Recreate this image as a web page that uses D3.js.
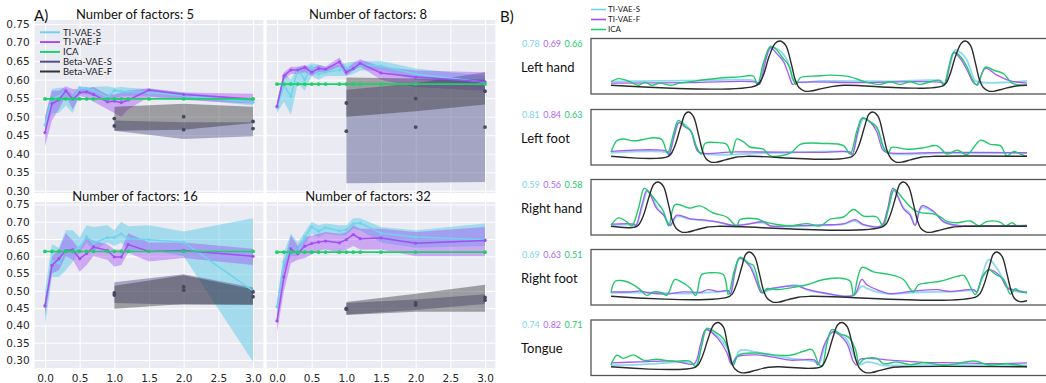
<!DOCTYPE html>
<html>
<head>
<meta charset="utf-8">
<script src="https://cdn.jsdelivr.net/npm/d3@7"></script>
<style>
  body { margin: 0; background: #fff; }
  .tick-lbl { font-family: "DejaVu Sans", sans-serif; font-size: 10.5px; fill: #262626; }
  .myr { font-family: Lato, "Open Sans", sans-serif; }
</style>
</head>
<body>
<svg id="fig" width="1046" height="383"></svg>
<script>
// ---------- Panel A data: x = weight, triples are [mean, lower, upper] ----------
const tiX = [0, 0.1, 0.2, 0.3, 0.4, 0.5, 0.6, 0.7, 0.9, 1.0, 1.1, 1.2, 1.5, 2.0, 3.0];
const betaX = [1, 2, 3];
const factorCounts = [5, 8, 16, 32];
const yTicks = [0.30, 0.35, 0.40, 0.45, 0.50, 0.55, 0.60, 0.65, 0.70, 0.75];
const xTicks = [0.0, 0.5, 1.0, 1.5, 2.0, 2.5, 3.0];

const tiS5 = [[0.478,0.46,0.50],[0.548,0.51,0.575],[0.555,0.51,0.578],[0.57,0.53,0.578],[0.545,0.51,0.56],[0.578,0.56,0.582],[0.576,0.56,0.58],[0.571,0.555,0.58],[0.552,0.545,0.582],[0.571,0.55,0.578],[0.568,0.555,0.58],[0.568,0.556,0.578],[0.565,0.555,0.575],[0.557,0.548,0.565],[0.539,0.53,0.547]];
const tiF5 = [[0.457,0.42,0.50],[0.535,0.49,0.57],[0.545,0.52,0.57],[0.57,0.555,0.582],[0.547,0.52,0.575],[0.565,0.555,0.575],[0.567,0.552,0.575],[0.56,0.54,0.58],[0.54,0.52,0.56],[0.542,0.51,0.56],[0.538,0.50,0.565],[0.545,0.52,0.57],[0.572,0.553,0.577],[0.56,0.545,0.565],[0.548,0.535,0.562]];
const ica5 = [0.548,0.548,0.548,0.548,0.548,0.548,0.548,0.548,0.548,0.548,0.548,0.548,0.548,0.548,0.548];
const betaS5 = [[0.475,0.462,0.49],[0.465,0.44,0.485],[0.468,0.447,0.485]];
const betaF5 = [[0.495,0.462,0.527],[0.50,0.465,0.535],[0.487,0.483,0.527]];

const tiS8 = [[0.525,0.51,0.54],[0.585,0.54,0.62],[0.555,0.505,0.60],[0.628,0.59,0.635],[0.60,0.57,0.635],[0.635,0.61,0.645],[0.615,0.60,0.64],[0.62,0.61,0.635],[0.626,0.61,0.64],[0.632,0.61,0.645],[0.63,0.615,0.648],[0.64,0.625,0.65],[0.637,0.625,0.65],[0.615,0.60,0.63],[0.593,0.585,0.61]];
const tiF8 = [[0.528,0.52,0.54],[0.61,0.60,0.62],[0.626,0.615,0.635],[0.626,0.615,0.635],[0.633,0.62,0.64],[0.62,0.61,0.63],[0.63,0.62,0.64],[0.628,0.62,0.635],[0.648,0.635,0.66],[0.62,0.61,0.63],[0.63,0.625,0.645],[0.644,0.635,0.655],[0.618,0.60,0.635],[0.607,0.58,0.625],[0.594,0.57,0.62]];
const ica8 = [0.588,0.588,0.588,0.588,0.588,0.588,0.588,0.588,0.588,0.588,0.588,0.588,0.588,0.588,0.588];
const betaS8 = [[0.461,0.32,0.573],[0.472,0.322,0.59],[0.472,0.324,0.62]];
const betaF8 = [[0.537,0.50,0.606],[0.549,0.515,0.603],[0.569,0.533,0.60]];

const tiS16 = [[0.459,0.40,0.50],[0.586,0.54,0.635],[0.58,0.54,0.625],[0.62,0.56,0.675],[0.615,0.585,0.675],[0.627,0.61,0.655],[0.656,0.64,0.69],[0.638,0.615,0.685],[0.654,0.64,0.69],[0.654,0.63,0.675],[0.665,0.64,0.70],[0.651,0.615,0.687],[0.648,0.62,0.69],[0.641,0.60,0.672],[0.50,0.295,0.71]];
const tiF16 = [[0.456,0.43,0.47],[0.574,0.55,0.60],[0.593,0.56,0.62],[0.617,0.60,0.667],[0.619,0.59,0.645],[0.593,0.555,0.62],[0.608,0.575,0.655],[0.627,0.60,0.645],[0.617,0.59,0.635],[0.598,0.57,0.62],[0.598,0.575,0.62],[0.634,0.61,0.667],[0.614,0.585,0.64],[0.617,0.595,0.64],[0.60,0.575,0.622]];
const ica16 = [0.614,0.614,0.614,0.614,0.614,0.614,0.614,0.614,0.614,0.614,0.614,0.614,0.614,0.614,0.614];
const betaS16 = [[0.488,0.465,0.525],[0.502,0.46,0.548],[0.483,0.46,0.51]];
const betaF16 = [[0.494,0.448,0.515],[0.512,0.462,0.545],[0.497,0.46,0.505]];

const tiS32 = [[0.454,0.44,0.47],[0.584,0.56,0.61],[0.625,0.60,0.665],[0.612,0.60,0.64],[0.656,0.63,0.67],[0.685,0.665,0.70],[0.673,0.655,0.69],[0.683,0.665,0.695],[0.673,0.66,0.69],[0.677,0.66,0.69],[0.694,0.68,0.71],[0.696,0.675,0.71],[0.667,0.64,0.685],[0.656,0.625,0.675],[0.648,0.63,0.695]];
const tiF32 = [[0.413,0.38,0.44],[0.54,0.50,0.58],[0.622,0.58,0.66],[0.608,0.59,0.63],[0.629,0.595,0.655],[0.637,0.605,0.66],[0.641,0.615,0.665],[0.644,0.62,0.67],[0.639,0.61,0.665],[0.648,0.62,0.67],[0.663,0.63,0.69],[0.651,0.62,0.68],[0.653,0.62,0.68],[0.638,0.60,0.67],[0.646,0.60,0.685]];
const ica32 = [0.612,0.612,0.612,0.612,0.612,0.612,0.612,0.612,0.612,0.612,0.612,0.612,0.612,0.612,0.612];
const betaS32 = [[0.447,0.432,0.465],[0.459,0.445,0.475],[0.473,0.462,0.49]];
const betaF32 = [[0.449,0.43,0.468],[0.465,0.44,0.492],[0.481,0.44,0.518]];

const seriesNames = ['TI-VAE-S', 'TI-VAE-F', 'ICA', 'Beta-VAE-S', 'Beta-VAE-F'];

// ---------- Panel B data: x = time (0-100), y = normalised activation ----------
const rowNames = ['Left hand', 'Left foot', 'Right hand', 'Right foot', 'Tongue'];
const scoreS = [0.78, 0.81, 0.59, 0.69, 0.74];
const scoreF = [0.69, 0.84, 0.56, 0.63, 0.82];
const scoreICA = [0.66, 0.63, 0.58, 0.51, 0.71];

const lhTruth = [[0,0],[35,0],[36.5,0.2],[38,0.65],[39.5,0.95],[40.7,1],[42,0.9],[43.3,0.5],[44.3,0.12],[45.2,-0.05],[46.5,-0.13],[48,-0.13],[50,-0.09],[53,-0.03],[56,0],[80,0],[81.3,0.2],[82.8,0.65],[84.2,0.95],[85.2,1],[86.4,0.9],[87.6,0.5],[88.6,0.12],[89.5,-0.05],[90.8,-0.13],[92.3,-0.13],[94.3,-0.08],[97,-0.02],[100,0]];
const lhS = [[0,0.09],[11,0.1],[23,0.11],[34.6,0.1],[35.4,0.02],[37,0.56],[38.7,0.86],[40.3,0.8],[41.9,0.64],[43.1,0.38],[44,0.1],[51.1,0.1],[67.1,0.09],[79.5,0.09],[80.1,0.02],[81.6,0.49],[82.8,0.8],[84.4,0.71],[85.6,0.56],[86.8,0.26],[87.6,0.1],[100,0.1]];
const lhF = [[0,0.05],[19,0.06],[34.9,0.07],[35.7,0.02],[37,0.49],[38.3,0.85],[39.9,0.71],[41.5,0.53],[42.9,0.19],[43.7,0.02],[44.7,0.06],[59.1,0.06],[79.5,0.06],[80.2,0.02],[82.4,0.73],[84,0.6],[85.6,0.34],[87.2,0.05],[88,0.02],[90,0.38],[92.8,0.23],[96,0.1],[100,0.05]];
const lhICA = [[0,0.08],[1.8,0.15],[3.8,0.11],[5.4,0.04],[6.6,0],[8.2,0.07],[9.8,0],[11.8,0.05],[14.2,0],[16.6,0.05],[19,0.08],[23,0.13],[27,0.17],[31,0.19],[34.2,0.21],[35.2,0],[36.6,0.49],[38.3,0.88],[39.5,0.83],[41.1,0.64],[42.7,0.45],[43.7,0.15],[44.5,0.02],[45.5,0.17],[49.5,0.21],[52.7,0.23],[57.5,0.19],[60.7,0.09],[64.7,0.02],[67.1,0.08],[69.5,0.02],[71.9,0.08],[74.3,0.02],[76.7,0.08],[79.1,0.11],[80,0],[81.2,0.41],[82.4,0.75],[84,0.65],[85.6,0.41],[87,0.11],[88,0],[90,0.41],[92,0.34],[94.4,0.26],[96.4,0.05],[100,0]];

const lfTruth = [[0,0],[13.8,0],[15.2,0.2],[16.7,0.65],[17.8,0.95],[18.6,1],[19.8,0.9],[21,0.5],[22,0.12],[22.8,-0.05],[24,-0.13],[25.5,-0.13],[27.5,-0.08],[30,-0.02],[33,0],[58,0],[59.4,0.2],[60.9,0.65],[62,0.95],[62.9,1],[64.2,0.9],[65.4,0.5],[66.4,0.12],[67.3,-0.05],[68.5,-0.13],[70,-0.13],[72,-0.08],[74.5,-0.02],[78,0],[100,0]];
const lfS = [[0,0.08],[13.5,0.08],[13.9,0.03],[15.3,0.5],[16.5,0.78],[18,0.7],[19.3,0.55],[20.6,0.2],[21.5,0.08],[40,0.08],[57.6,0.08],[58,0.03],[59.3,0.5],[60.7,0.85],[62.3,0.77],[64,0.62],[65.5,0.2],[66.4,0.08],[80,0.07],[100,0.07]];
const lfF = [[0,0.11],[13.5,0.11],[13.9,0.03],[15.3,0.5],[16.3,0.76],[17.8,0.66],[19.2,0.57],[20.2,0.25],[21.1,0.09],[30,0.1],[50,0.09],[57.6,0.09],[58,0.03],[59.3,0.55],[60.3,0.85],[62,0.8],[63.8,0.57],[65.3,0.15],[66.2,0.09],[80,0.09],[100,0.08]];
const lfICA = [[0,0.09],[1.4,0.35],[3,0.39],[5.4,0.35],[7.8,0.38],[10.2,0.42],[12.2,0.38],[13.6,0.07],[15,0.5],[16.2,0.81],[17.8,0.68],[19.2,0.57],[20.6,0.2],[21.7,0.05],[22.6,0.29],[25.4,0.31],[27.8,0.27],[29,0.05],[30.2,0.39],[31.8,0.33],[33.4,0.21],[36.6,0.16],[38.3,0.01],[43.1,0.07],[45.5,0.27],[51.1,0.29],[55.9,0.24],[57.5,0.05],[59.1,0.57],[60.5,0.87],[62.3,0.78],[63.9,0.66],[65.5,0.2],[66.6,0.07],[67.5,0.2],[71.1,0.16],[75.1,0.19],[78.3,0.24],[80.8,0.05],[83.2,0.14],[85.6,0.04],[88.8,0.36],[91.2,0.27],[93.6,0.24],[95.2,0.01],[96.8,0.11],[98.4,0.05],[100,0]];

const rhTruth = [[0,0],[6.2,0],[7.6,0.2],[9.1,0.65],[10.3,0.95],[11.4,1],[12.6,0.9],[13.8,0.5],[14.8,0.12],[15.7,-0.05],[17,-0.13],[18.5,-0.13],[20.5,-0.08],[23,-0.02],[26,0],[65.5,0],[66.9,0.2],[68.4,0.65],[69.4,0.95],[70.3,1],[71.5,0.9],[72.7,0.5],[73.7,0.12],[74.5,-0.05],[75.8,-0.13],[77.3,-0.13],[79.3,-0.08],[82,-0.02],[85,0],[100,0]];
const rhS = [[0,0.03],[5.5,0.03],[6,0.01],[7.5,0.45],[8.8,0.8],[9.7,0.7],[11.2,0.4],[12.8,0.24],[14.3,0.02],[15.8,0.22],[19,0.16],[21.4,0.14],[25.4,0.1],[29.4,0.02],[36.6,0.08],[38.3,0.01],[51,0.02],[56,0.05],[58.7,0.12],[60.7,0.03],[65,0.01],[66.5,0.35],[68,0.8],[70.3,0.42],[71.9,0.28],[73.1,0.03],[74.7,0.42],[77.5,0.32],[80,0.1],[83.2,0.02],[100,0.02]];
const rhF = [[0,0.05],[5.5,0.05],[6,0.02],[7.5,0.5],[8.6,0.81],[9.5,0.7],[11,0.4],[12.6,0.26],[14.2,0.02],[15.8,0.25],[19,0.17],[21.4,0.15],[25.4,0.1],[29.4,0.02],[33,0.05],[36.6,0.1],[38.3,0.01],[43,0.01],[51,0.03],[56,0.06],[58.7,0.15],[60.7,0.04],[65,0.01],[66.5,0.4],[67.8,0.86],[70.3,0.4],[71.9,0.25],[73.1,0.02],[74.7,0.46],[77.5,0.34],[80,0.1],[83.2,0.02],[100,0.02]];
const rhICA = [[0,0.02],[1.8,0.19],[3.8,0.1],[5,0.01],[6.6,0.4],[8,0.86],[9.4,0.74],[11,0.55],[12.6,0.34],[13.9,0.01],[15.4,0.49],[19,0.41],[21.4,0.46],[24.6,0.3],[27.8,0.21],[30.2,0.01],[31,0.15],[35,0.17],[36.6,0.11],[39.9,0.04],[43.1,0.01],[47.1,0.06],[50.3,0.01],[52.7,0.16],[55.9,0.21],[58.3,0.38],[60.7,0.23],[63.9,0.21],[65.4,0.01],[66.7,0.4],[68.1,0.83],[70.3,0.61],[72.3,0.41],[73.9,0.32],[78.3,0.26],[80.8,0.11],[83.2,0.08],[86.4,0.12],[88.4,0.01],[90.4,0.11],[93.6,0.09],[94.8,0.01],[96.4,0.08],[97.6,0.01],[100,0.01]];

const rfTruth = [[0,0],[28.5,0],[29.9,0.2],[31.4,0.65],[32.4,0.95],[33.3,1],[34.5,0.9],[35.7,0.5],[36.7,0.12],[37.6,-0.05],[38.9,-0.13],[40.4,-0.13],[42.4,-0.08],[45,-0.02],[48,0],[88,0],[89.4,0.2],[90.9,0.65],[91.9,0.95],[92.8,1],[94,0.9],[95.2,0.5],[96.2,0.12],[97,-0.05],[98.3,-0.12],[100,-0.1]];
const rfS = [[0,0.08],[10,0.08],[17.5,0.06],[22,0.08],[26,0.1],[28.2,0.11],[28.7,0.05],[29.8,0.55],[31,0.85],[33.3,0.72],[34.9,0.4],[36.2,0.08],[37.4,0.12],[44.7,0.25],[47,0.15],[51,0.07],[58.3,0.02],[60.3,0.23],[61.5,0.18],[63.9,0.1],[67.1,0.05],[71.9,0.08],[78.3,0.1],[81.6,0.1],[87.2,0.13],[87.9,0.1],[89.5,0.55],[90.8,0.83],[93,0.6],[95.2,0.22],[96.8,0.12],[100,0.1]];
const rfF = [[0,0.1],[5,0.1],[7,0.12],[9,0.08],[13.5,0.05],[17.5,0.1],[21.5,0.09],[23.3,0.15],[26,0.11],[28.2,0.13],[28.7,0.05],[29.8,0.55],[30.8,0.86],[33.3,0.68],[34.9,0.34],[36.2,0.08],[37.4,0.15],[44.7,0.23],[47,0.16],[51,0.08],[58.3,0.02],[60.3,0.38],[61.5,0.26],[63.9,0.15],[67.1,0.06],[71.9,0.11],[78.3,0.15],[81.6,0.11],[87.2,0.15],[87.9,0.1],[89.3,0.45],[90.8,0.6],[93.6,0.45],[95.2,0.19],[96.8,0.15],[100,0.08]];
const rfICA = [[0,0.08],[1,0.34],[3,0.35],[5.4,0.26],[7,0.15],[8.6,0.02],[10.2,0.1],[12.2,0.08],[13.4,0.02],[15.4,0.38],[17,0.32],[19,0.19],[20.4,0.02],[21.8,0.49],[23.8,0.53],[27,0.49],[28.2,0.04],[29.6,0.56],[31,0.88],[33,0.75],[34.2,0.7],[35.8,0.19],[36.6,0.08],[37.4,0.17],[39.9,0.15],[43.1,0.19],[47.1,0.26],[51.1,0.38],[55.1,0.41],[57.5,0.34],[58.3,0.02],[60.3,0.65],[63.1,0.55],[67.1,0.49],[70.3,0.38],[72.6,0.1],[73.9,0.26],[75.9,0.3],[79.1,0.34],[83.2,0.45],[84.8,0.47],[87.6,0.04],[89.2,0.41],[90.8,0.6],[92.4,0.5],[94.4,0.38],[96,0.05],[97.2,0.17],[98.4,0.1],[100,0.08]];

const tgTruth = [[0,0],[20.4,0],[21.8,0.2],[23.4,0.65],[24.7,0.95],[25.8,1],[27,0.9],[28,0.5],[28.9,0.12],[29.8,-0.05],[31.2,-0.13],[32.7,-0.13],[34.7,-0.08],[37.3,-0.02],[40,0],[50.4,0],[51.8,0.2],[53.3,0.65],[54.5,0.95],[55.6,1],[56.8,0.9],[58,0.5],[59,0.12],[59.9,-0.05],[61.2,-0.13],[62.7,-0.13],[64.7,-0.08],[67.3,-0.02],[70,0],[100,0]];
const tgS = [[0,0.04],[7,0.05],[19,0.1],[20.4,0.04],[21.8,0.5],[23,0.84],[25,0.74],[27.8,0.44],[29.3,0.04],[31,0.37],[35,0.33],[39,0.26],[43.1,0.19],[49,0.11],[49.9,0.04],[51.5,0.5],[53.3,0.78],[56.5,0.63],[58.7,0.19],[59.9,0.05],[61.5,0.11],[63.9,0.07],[64.7,0.04],[75,0.04],[100,0.04]];
const tgF = [[0,0.09],[7,0.11],[15,0.13],[20,0.07],[21.5,0.5],[22.8,0.84],[25.4,0.67],[27.8,0.33],[29,0.05],[30.2,0.22],[35,0.27],[39,0.22],[43.1,0.15],[49,0.15],[49.7,0.05],[51.3,0.5],[53.3,0.79],[56.5,0.56],[58.3,0.11],[59.1,0.04],[59.9,0.17],[67.1,0.15],[75.1,0.1],[83.2,0.09],[91.2,0.07],[100,0.09]];
const tgICA = [[0,0.04],[1.4,0.26],[3,0.19],[5.4,0.27],[7.8,0.15],[11,0.17],[14.2,0.13],[16.6,0.13],[19,0.13],[20.4,0],[21.8,0.48],[23,0.87],[25,0.79],[27,0.64],[28.5,0.33],[29.4,0.04],[30.6,0.26],[35,0.31],[39,0.27],[43.1,0.26],[46.3,0.35],[48.3,0.39],[49.9,0.07],[50.7,0],[51.9,0.52],[53.1,0.84],[55.1,0.74],[57.1,0.67],[58.7,0.41],[59.7,0.07],[60.7,0.17],[63.9,0.19],[65.5,0.07],[68.7,0.11],[71.9,0.05],[75.1,0.09],[80,0.04],[83.2,0.07],[87.2,0.13],[91.2,0.04],[95.2,0.07],[100,0]];

const traces = [
  [lhTruth, lhS, lhF, lhICA],
  [lfTruth, lfS, lfF, lfICA],
  [rhTruth, rhS, rhF, rhICA],
  [rfTruth, rfS, rfF, rfICA],
  [tgTruth, tgS, tgF, tgICA]
];

// ---------- colours ----------
const colS = '#6fd3ec';
const colF = '#a34df5';
const colICA = '#1fcf6b';
const colBS = '#50508a';
const colBF = '#333333';
const colTruth = '#2b2b2b';

const svg = d3.select('#fig');

// ---------- Panel A ----------
const panelData = {
  5: { s: tiS5, f: tiF5, ica: ica5, bs: betaS5, bf: betaF5 },
  8: { s: tiS8, f: tiF8, ica: ica8, bs: betaS8, bf: betaF8 },
  16: { s: tiS16, f: tiF16, ica: ica16, bs: betaS16, bf: betaF16 },
  32: { s: tiS32, f: tiF32, ica: ica32, bs: betaS32, bf: betaF32 }
};

const layout = [
  { x0: 34.6, x1: 263.4, y0: 20, y1: 193, dom: [0.294, 0.761], left: true, bottom: false, titleX: 135, titleY: 19 },
  { x0: 266.6, x1: 495.4, y0: 20, y1: 193, dom: [0.294, 0.761], left: false, bottom: false, titleX: 368, titleY: 19 },
  { x0: 34.6, x1: 263.4, y0: 202, y1: 368, dom: [0.277, 0.757], left: true, bottom: true, titleX: 135, titleY: 201 },
  { x0: 266.6, x1: 495.4, y0: 202, y1: 368, dom: [0.277, 0.757], left: false, bottom: true, titleX: 368, titleY: 201 }
];

factorCounts.forEach((n, i) => {
  const L = layout[i];
  const d = panelData[n];
  const x = d3.scaleLinear().domain([-0.15, 3.15]).range([L.x0, L.x1]);
  const y = d3.scaleLinear().domain(L.dom).range([L.y1, L.y0]);
  const g = svg.append('g');

  g.append('rect')
    .attr('x', L.x0).attr('y', L.y0)
    .attr('width', L.x1 - L.x0).attr('height', L.y1 - L.y0)
    .attr('fill', '#eaeaf2');

  // grid
  g.append('g')
    .attr('transform', `translate(${L.x0},0)`)
    .call(d3.axisLeft(y).tickValues(yTicks).tickSize(-(L.x1 - L.x0)).tickFormat(''))
    .call(a => a.select('.domain').remove())
    .selectAll('.tick line').attr('stroke', '#fff').attr('stroke-width', 1);
  g.append('g')
    .attr('transform', `translate(0,${L.y1})`)
    .call(d3.axisBottom(x).tickValues(xTicks).tickSize(-(L.y1 - L.y0)).tickFormat(''))
    .call(a => a.select('.domain').remove())
    .selectAll('.tick line').attr('stroke', '#fff').attr('stroke-width', 1);

  if (L.left) {
    const ya = g.append('g')
      .attr('transform', `translate(${L.x0},0)`)
      .call(d3.axisLeft(y).tickValues(yTicks).tickSize(0).tickPadding(5).tickFormat(d3.format('.2f')));
    ya.select('.domain').remove();
    ya.selectAll('text').attr('class', 'tick-lbl');
  }
  if (L.bottom) {
    const xa = g.append('g')
      .attr('transform', `translate(0,${L.y1})`)
      .call(d3.axisBottom(x).tickValues(xTicks).tickSize(0).tickPadding(7).tickFormat(d3.format('.1f')));
    xa.select('.domain').remove();
    xa.selectAll('text').attr('class', 'tick-lbl');
  }

  g.append('text')
    .attr('class', 'myr')
    .attr('x', L.titleX).attr('y', L.titleY)
    .attr('text-anchor', 'middle')
    .attr('font-size', 13).attr('fill', '#111')
    .text(`Number of factors: ${n}`);

  const band = xs => d3.area()
    .x((p, k) => x(xs[k]))
    .y0(p => y(p[1]))
    .y1(p => y(p[2]));
  const line = xs => d3.line()
    .x((p, k) => x(xs[k]))
    .y(p => y(Array.isArray(p) ? p[0] : p));

  // bands (under every line)
  g.append('path').attr('d', band(tiX)(d.s)).attr('fill', '#5ccbe6').attr('fill-opacity', 0.5);
  g.append('path').attr('d', band(tiX)(d.f)).attr('fill', colF).attr('fill-opacity', 0.42);
  g.append('path').attr('d', band(betaX)(d.bs)).attr('fill', colBS).attr('fill-opacity', 0.45);
  g.append('path').attr('d', band(betaX)(d.bf)).attr('fill', colBF).attr('fill-opacity', 0.42);

  // lines + markers
  const drawSeries = (vals, xs, col, w, r) => {
    g.append('path').attr('d', line(xs)(vals))
      .attr('fill', 'none').attr('stroke', col).attr('stroke-width', w);
    g.append('g').selectAll('circle').data(vals).join('circle')
      .attr('cx', (p, k) => x(xs[k]))
      .attr('cy', p => y(Array.isArray(p) ? p[0] : p))
      .attr('r', r).attr('fill', col);
  };
  drawSeries(d.s, tiX, colS, 1.5, 1.6);
  drawSeries(d.f, tiX, colF, 1.5, 1.6);
  drawSeries(d.ica, tiX, colICA, 1.6, 1.9);

  [d.bs, d.bf].forEach(vals => {
    g.append('g').selectAll('circle').data(vals).join('circle')
      .attr('cx', (p, k) => x(betaX[k]))
      .attr('cy', p => y(p[0]))
      .attr('r', 1.9).attr('fill', '#484864');
  });

  // legend in first panel
  if (i === 0) {
    const legCols = [colS, colF, colICA, colBS, colBF];
    const lg = g.append('g');
    seriesNames.forEach((name, k) => {
      const yy = 32.3 + k * 9.8;
      lg.append('line').attr('x1', 40).attr('x2', 60).attr('y1', yy).attr('y2', yy)
        .attr('stroke', legCols[k]).attr('stroke-width', 2);
      lg.append('text').attr('class', 'myr').attr('x', 63).attr('y', yy + 3.3)
        .attr('font-size', 9.5).attr('fill', '#222').text(name);
    });
  }
});

svg.append('text').attr('class', 'myr').attr('x', 34).attr('y', 20.5)
  .attr('font-size', 15).attr('fill', '#111').text('A)');

// ---------- Panel B ----------
svg.append('text').attr('class', 'myr').attr('x', 500).attr('y', 21.7)
  .attr('font-size', 15).attr('fill', '#111').text('B)');

const legB = [['TI-VAE-S', colS], ['TI-VAE-F', colF], ['ICA', colICA]];
legB.forEach(([name, col], k) => {
  const yy = 9.5 + k * 10;
  svg.append('line').attr('x1', 591).attr('x2', 606).attr('y1', yy).attr('y2', yy)
    .attr('stroke', col).attr('stroke-width', 1.6);
  svg.append('text').attr('class', 'myr').attr('x', 608).attr('y', yy + 2.8)
    .attr('font-size', 8).attr('fill', '#222').text(name);
});

const rowTops = [38.5, 109.5, 179.5, 249.5, 320];
const bx = d3.scaleLinear().domain([0, 100]).range([611, 1027]);

rowNames.forEach((name, r) => {
  const top = rowTops[r];
  const by = d3.scaleLinear().domain([0, 1]).range([top + 46.8, top + 2.5]);
  const g = svg.append('g');

  g.append('rect').attr('x', 591).attr('y', top).attr('width', 470).attr('height', 55.5)
    .attr('fill', 'none').attr('stroke', '#555').attr('stroke-width', 1.3);

  const ln = d3.line().x(p => bx(p[0])).y(p => by(p[1])).curve(d3.curveCatmullRom.alpha(0.5));
  const [truth, s, f, ica] = traces[r];
  g.append('path').attr('d', ln(s)).attr('fill', 'none').attr('stroke', '#8fdaee').attr('stroke-width', 1.8);
  g.append('path').attr('d', ln(f)).attr('fill', 'none').attr('stroke', '#a858f5').attr('stroke-width', 1.3);
  g.append('path').attr('d', ln(ica)).attr('fill', 'none').attr('stroke', '#22c96c').attr('stroke-width', 1.4);
  g.append('path').attr('d', ln(truth)).attr('fill', 'none').attr('stroke', colTruth).attr('stroke-width', 1.4);

  const sc = [[scoreS[r], '#7fd3ea'], [scoreF[r], '#b068f5'], [scoreICA[r], '#22c96c']];
  sc.forEach(([v, col], k) => {
    g.append('text').attr('class', 'myr').attr('x', 522 + k * 21.3).attr('y', top + 8)
      .attr('font-size', 9).attr('fill', col).text(v.toFixed(2));
  });
  g.append('text').attr('class', 'myr').attr('x', 521).attr('y', top + 33)
    .attr('font-size', 13).attr('fill', '#111').text(name);
});
</script>
</body>
</html>
